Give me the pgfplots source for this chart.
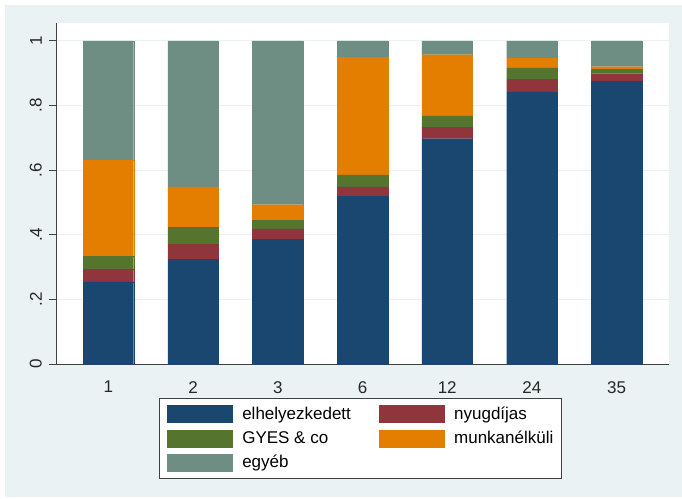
\documentclass[border=0pt]{standalone}
\usepackage{fontspec}
\setmainfont{Liberation Sans}
\usepackage{pgfplots}
\pgfplotsset{compat=1.18}
\usepackage{pgfplotstable}
\definecolor{bg}{HTML}{EAF2F3}
\definecolor{cnavy}{HTML}{1A476F}
\definecolor{cmaroon}{HTML}{90353B}
\definecolor{cgreen}{HTML}{55752F}
\definecolor{corange}{HTML}{E37E00}
\definecolor{cteal}{HTML}{6E8E84}
\definecolor{axc}{HTML}{404040}
\newcommand\f{\fontsize{17pt}{20pt}\selectfont}
\pgfplotstableread{
x el ny gy mu eg
0 0.254 0.039 0.041 0.297 0.369
1 0.324 0.046 0.053 0.125 0.452
2 0.386 0.032 0.027 0.048 0.507
3 0.518 0.030 0.037 0.364 0.051
4 0.697 0.035 0.036 0.189 0.043
5 0.842 0.038 0.036 0.030 0.054
6 0.874 0.024 0.014 0.008 0.080
}\datatable
\pgfplotsset{sw/.style={fill=#1, draw=#1, line width=0.2pt,
  legend image code/.code={\fill[##1] (0pt,-8.5pt) rectangle (65pt,8.5pt);}}}
\begin{document}
\begin{tikzpicture}
\useasboundingbox (0pt,0pt) rectangle (682pt,498pt);
\fill[white] (0pt,0pt) rectangle (682pt,498pt);
\fill[bg] (5pt,1pt) rectangle (682pt,493pt);
\begin{axis}[
  at={(56pt,134pt)}, anchor=south west,
  scale only axis, width=613pt, height=341pt,
  ybar stacked, bar width=50.5pt,
  xmin=-0.618, xmax=6.618, ymin=0, ymax=1.055,
  axis background/.style={fill=white},
  axis x line*=bottom, axis y line*=left,
  axis line style={-, draw=axc, line width=1pt},
  xtick={0,1,2,3,4,5,6},
  xticklabels={1,2,3,6,12,24,35},
  xtick style={draw=none},
  xticklabel style={font=\f, text=black!85, anchor=north, inner sep=0pt, yshift=-10pt},
  ytick={0,0.2,0.4,0.6,0.8,1},
  yticklabels={0,.2,.4,.6,.8,1},
  ytick style={draw=axc, line width=1pt},
  tick align=outside, major tick length=7pt,
  yticklabel style={font=\f, text=black!85, inner sep=0pt, xshift=-7pt, rotate=90, anchor=south},
  ymajorgrids, grid style={draw=bg, line width=1pt},
  legend columns=2,
  legend cell align=left,
  legend style={at={(0.168,-0.0997)}, anchor=north west, draw=axc, line width=0.8pt,
    fill=white, font=\f, inner xsep=7.7pt, inner ysep=7pt, row sep=7pt,
    nodes={inner sep=0pt},
    /tikz/every odd column/.append style={column sep=10pt},
    /tikz/every even column/.append style={column sep=28pt}},
]
\addplot[sw=cnavy] table[x=x, y=el] {\datatable};
\addplot[sw=cmaroon] table[x=x, y=ny] {\datatable};
\addplot[sw=cgreen] table[x=x, y=gy] {\datatable};
\addplot[sw=corange] table[x=x, y=mu] {\datatable};
\addplot[sw=cteal] table[x=x, y=eg] {\datatable};
\legend{elhelyezkedett, nyugdíjas, GYES \& co, munkanélküli, egyéb}
\end{axis}
\end{tikzpicture}
\end{document}
